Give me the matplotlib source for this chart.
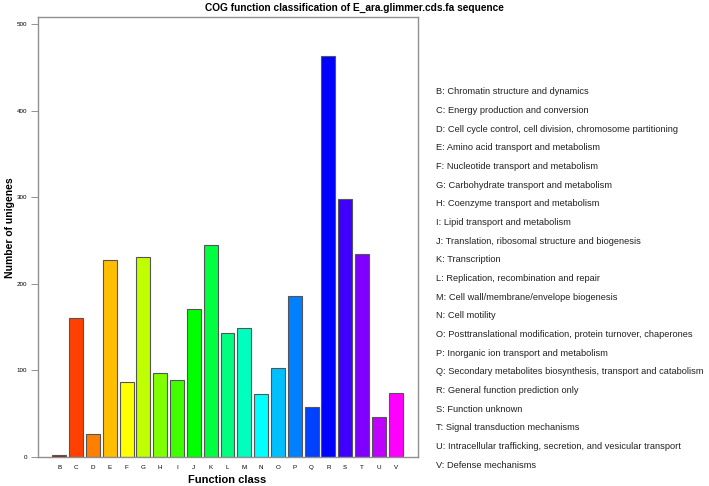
import matplotlib
matplotlib.use("Agg")
import matplotlib.pyplot as plt

categories = ["B","C","D","E","F","G","H","I","J","K","L","M","N","O","P","Q","R","S","T","U","V"]
values = [2,161,27,228,87,231,97,89,171,245,143,149,73,103,186,58,463,298,234,46,74]
colors = ["#8B1A1A","#FF4000","#FF8000","#FFBF00","#FFFF00","#BFFF00","#80FF00","#40FF00",
          "#00FF00","#00FF40","#00FF80","#00FFBF","#00FFFF","#00BFFF","#0080FF","#0040FF",
          "#0000FF","#4000FF","#8000FF","#BF00FF","#FF00FF"]
descriptions = [
    "B: Chromatin structure and dynamics",
    "C: Energy production and conversion",
    "D: Cell cycle control, cell division, chromosome partitioning",
    "E: Amino acid transport and metabolism",
    "F: Nucleotide transport and metabolism",
    "G: Carbohydrate transport and metabolism",
    "H: Coenzyme transport and metabolism",
    "I: Lipid transport and metabolism",
    "J: Translation, ribosomal structure and biogenesis",
    "K: Transcription",
    "L: Replication, recombination and repair",
    "M: Cell wall/membrane/envelope biogenesis",
    "N: Cell motility",
    "O: Posttranslational modification, protein turnover, chaperones",
    "P: Inorganic ion transport and metabolism",
    "Q: Secondary metabolites biosynthesis, transport and catabolism",
    "R: General function prediction only",
    "S: Function unknown",
    "T: Signal transduction mechanisms",
    "U: Intracellular trafficking, secretion, and vesicular transport",
    "V: Defense mechanisms",
]
yticks = [0, 100, 200, 300, 400, 500]

plt.rcParams['font.family'] = ['Liberation Sans', 'DejaVu Sans']
fig = plt.figure(figsize=(7.09, 4.86), dpi=100)
ax = fig.add_axes([38/709, 29/486, 380/709, 440/486])
x = list(range(len(categories)))
ax.bar(x, values, width=0.83, color=colors, edgecolor="#555555", linewidth=0.8)
ax.set_xlim(-1.27, 21.33)
ax.set_ylim(0, 508)
ax.set_xticks(x)
ax.set_xticklabels(categories, fontsize=4.5)
ax.tick_params(axis='x', length=0, pad=6)
ax.set_yticks(yticks)
ax.set_yticklabels([str(v) for v in yticks], fontsize=4.5)
ax.tick_params(axis='y', length=5, width=0.6, color="#808080", pad=3)
for s in ax.spines.values():
    s.set_color("#909090")
    s.set_linewidth(1.0)
fig.text(227/709, 1 - 480/486, "Function class", ha='center', va='center',
         fontsize=8, fontweight='bold')
fig.text(10/709, 1 - 228/486, "Number of unigenes", ha='center', va='center',
         fontsize=7.5, fontweight='bold', rotation=90)
fig.text(354.5/709, 1 - 8/486, "COG function classification of E_ara.glimmer.cds.fa sequence",
         ha='center', va='center', fontsize=7.3, fontweight='bold')

y0 = 92
dy = (465 - 92) / 20
for i, d in enumerate(descriptions):
    fig.text(436/709, 1 - (y0 + i*dy)/486, d, ha='left', va='center', fontsize=6.7, color="#222222")

fig.savefig("out.png", dpi=100)
